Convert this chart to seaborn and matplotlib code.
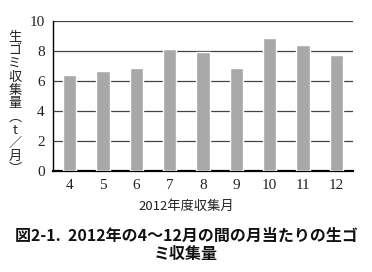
import matplotlib
matplotlib.use("Agg")
import matplotlib.pyplot as plt
import seaborn as sns
import pandas as pd

months = ["4", "5", "6", "7", "8", "9", "10", "11", "12"]
values = [6.4, 6.65, 6.9, 8.13, 7.95, 6.9, 8.85, 8.4, 7.73]
yticks = [0, 2, 4, 6, 8, 10]
xlabel = "2012年度収集月"
ylabel_chars = ["生", "ゴ", "ミ", "収", "集", "量", "︵", "t", "／", "月", "︶"]
caption = "図2-1.  2012年の4～12月の間の月当たりの生ゴ\nミ収集量"

sns.set_theme(style="white")
plt.rcParams['font.family'] = ['Noto Sans CJK JP', 'DejaVu Sans']

df = pd.DataFrame({"month": months, "value": values})

W, H = 372, 272
fig = plt.figure(figsize=(W / 100, H / 100), dpi=100)
ax = fig.add_axes([53 / W, 1 - 171 / H, 300 / W, 150 / H])
sns.barplot(data=df, x="month", y="value", color="#a8a8a8", width=0.4,
            saturation=1, ax=ax, zorder=3)
ax.set_ylim(0, 10)
ax.set_xlim(-0.5, 8.5)
ax.set_yticks(yticks)
ax.yaxis.grid(True, color="#444444", linewidth=0.9, zorder=0)
ax.set_axisbelow(True)
for s in ["top", "right"]:
    ax.spines[s].set_visible(False)
ax.spines["left"].set_color("black")
ax.spines["left"].set_linewidth(1.0)
ax.spines["bottom"].set_color("black")
ax.spines["bottom"].set_linewidth(1.6)
ax.tick_params(axis="both", length=0, pad=6, labelsize=11)
for lab in ax.get_xticklabels() + ax.get_yticklabels():
    lab.set_fontfamily("Liberation Serif")
    lab.set_color("#222222")
ax.set_xlabel("")
ax.set_ylabel("")
fig.text(0.5, 1 - 206 / H, xlabel, ha="center", va="center", fontsize=9.5, color="#222222")
y0, step = 37.7, 13.2
for i, ch in enumerate(ylabel_chars):
    fig.text(15 / W, 1 - (y0 + i * step) / H, ch, ha="center", va="center",
             fontsize=9.5, color="#222222")
fig.text(0.5, 1 - 245 / H, caption, ha="center", va="center", fontsize=11.5,
         fontweight="bold", linespacing=1.2, color="#111111")
fig.savefig("out.png", dpi=100, facecolor="white")
